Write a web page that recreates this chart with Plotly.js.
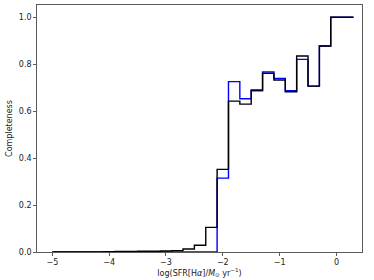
<!DOCTYPE html>
<html>
<head>
<meta charset="utf-8">
<script src="https://cdn.plot.ly/plotly-3.0.1.min.js"></script>
<style>html,body{margin:0;padding:0;background:#fff;}#chart{width:374px;height:280px;}</style>
</head>
<body>
<div id="chart"></div>
<script>
// Bin edges (log SFR)
const binEdges = [-5.0, -4.9, -4.7, -4.5, -4.3, -4.1, -3.9, -3.7, -3.5, -3.3, -3.1, -2.9, -2.7, -2.5, -2.3, -2.1, -1.9, -1.7, -1.5, -1.3, -1.1, -0.9, -0.7, -0.5, -0.3, -0.1, 0.1, 0.3];
// Completeness per bin
const blackCompleteness = [0, 0, 0, 0, 0, 0.001, 0.002, 0.002, 0.003, 0.003, 0.004, 0.006, 0.013, 0.029, 0.105, 0.352, 0.643, 0.630, 0.690, 0.761, 0.733, 0.683, 0.835, 0.707, 0.878, 1.0, 1.0];
const blueCompleteness = [0, 0, 0, 0, 0, 0, 0, 0, 0, 0, 0, 0, 0, 0, 0, 0.315, 0.726, 0.653, 0.687, 0.767, 0.740, 0.687, 0.821, 0.707, 0.878, 1.0, 1.0];
const xTicks = [-5, -4, -3, -2, -1, 0];
const yTicks = [0, 0.2, 0.4, 0.6, 0.8, 1.0];

function stepY(vals){ return vals.concat([vals[vals.length-1]]); }

const font = {family: 'DejaVu Sans, sans-serif', size: 8, color: '#222'};

const traces = [
  {x: binEdges, y: stepY(blueCompleteness), mode: 'lines', line: {shape: 'hv', color: '#0000ff', width: 1.4}, hoverinfo: 'none'},
  {x: binEdges, y: stepY(blackCompleteness), mode: 'lines', line: {shape: 'hv', color: '#000000', width: 1.4}, hoverinfo: 'none'}
];

const layout = {
  width: 374, height: 280,
  margin: {l: 37, r: 12, t: 5, b: 28},
  paper_bgcolor: '#fff', plot_bgcolor: '#fff',
  showlegend: false,
  font: font,
  xaxis: {
    range: [-5.27, 0.45], tickvals: xTicks, ticks: 'outside', ticklen: 3, tickwidth: 0.8, tickcolor: '#333',
    showgrid: false, zeroline: false, showline: true, linecolor: '#333', linewidth: 0.8, mirror: true,
    tickfont: font,
    title: {text: 'log(SFR[H<i>α</i>]/<i>M</i><sub>⊙</sub> yr<sup>−1</sup>)', font: font, standoff: 3}
  },
  yaxis: {
    range: [0, 1.0525], tickvals: yTicks, tickformat: '.1f', ticks: 'outside', ticklen: 3, tickwidth: 0.8, tickcolor: '#333',
    showgrid: false, zeroline: false, showline: true, linecolor: '#333', linewidth: 0.8, mirror: true,
    tickfont: font,
    title: {text: 'Completeness', font: font, standoff: 4}
  }
};

Plotly.newPlot('chart', traces, layout, {displayModeBar: false, staticPlot: true});
</script>
</body>
</html>
